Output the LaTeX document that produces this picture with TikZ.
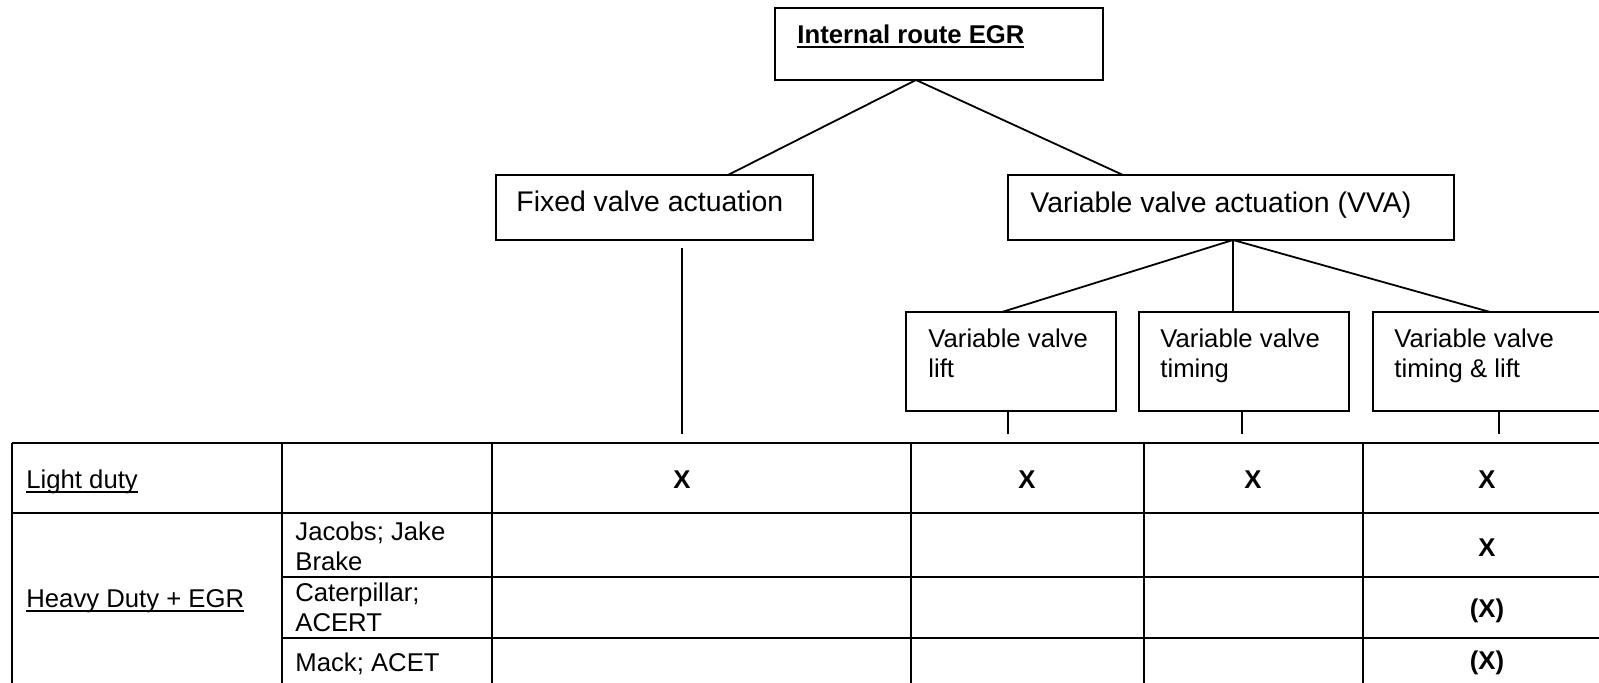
\documentclass[tikz,border=0pt]{standalone}
\usepackage{fontspec}
\setmainfont{Liberation Sans}
\usetikzlibrary{fit}

\newsavebox{\undlbox}
\newcommand{\undl}[1]{\sbox{\undlbox}{#1}\rlap{\rule[-2.3pt]{\wd\undlbox}{0.8pt}}\usebox{\undlbox}}

\begin{document}
\begin{tikzpicture}[
    x=0.5pt, y=-0.5pt,
    box/.style={draw,line width=1pt,inner sep=0pt},
    txt/.style={anchor=north west,inner sep=0pt,align=left,
                font=\fontsize{12.85}{15}\selectfont},
    bigtxt/.style={txt,font=\fontsize{14.2}{17}\selectfont},
    xmk/.style={inner sep=0pt,font=\fontsize{12.85}{15}\selectfont\bfseries},
    link/.style={line width=0.9pt},
    gridln/.style={line width=1pt}
]
    \clip (0,0) rectangle (1599,683);

    % tree of boxes
    \node[box,fit={(775,8) (1103,80)}] (root) {};
    \node[txt,font=\fontsize{12.85}{15}\selectfont\bfseries] (roottxt) at (797,24) {\undl{Internal route EGR}};
    \node[box,fit={(496,175) (813,240)}] (fixed) {};
    \node[bigtxt] (fixedtxt) at (516,191) {Fixed valve actuation};
    \node[box,fit={(1008,175) (1454,240)}] (vva) {};
    \node[bigtxt] (vvatxt) at (1030,192) {Variable valve actuation (VVA)};
    \node[box,fit={(906,312) (1116,411)}] (vvl) {};
    \node[txt] (vvltxt) at (928,328) {Variable valve\\lift};
    \node[box,fit={(1139,312) (1349,411)}] (vvt) {};
    \node[txt] (vvttxt) at (1160,328) {Variable valve\\timing};
    \node[box,fit={(1373,312) (1612,411)}] (vvtl) {};
    \node[txt] (vvtltxt) at (1394,328) {Variable valve\\timing \& lift};

    % connectors
    \coordinate (rootj) at (916,80);
    \coordinate (fixedin) at (728,175);
    \coordinate (vvain) at (1123,175);
    \draw[link] (rootj) -- (fixedin);
    \draw[link] (rootj) -- (vvain);
    \coordinate (vvaj) at (1233,240);
    \coordinate (vvlin) at (1002,312);
    \coordinate (vvtin) at (1233,312);
    \coordinate (vvtlin) at (1490,312);
    \foreach \c in {vvlin,vvtin,vvtlin}
        \draw[link] (vvaj) -- (\c);

    % stubs down to the table
    \coordinate (fixout) at (682,434);
    \coordinate (vvlout) at (1008,434);
    \coordinate (vvtout) at (1242,434);
    \coordinate (vvtlout) at (1499,434);
    \draw[link] (fixed.south -| fixout) ++(0,7) -- (fixout);
    \foreach \n in {vvl,vvt,vvtl}
        \draw[link] (\n.south -| \n out) -- (\n out);

    % table
    \foreach \x in {12,282,492,911,1144,1363,1611}
        \draw[gridln] (\x,443) -- (\x,700);
    \draw[gridln] (12,443) -- (1611,443);
    \draw[gridln] (12,513) -- (1611,513);
    \draw[gridln] (282,577) -- (1611,577);
    \draw[gridln] (282,638) -- (1611,638);

    \node[txt] (light) at (26,469) {\undl{Light duty}};
    \node[txt] (heavy) at (26,589) {\undl{Heavy Duty + EGR}};
    \node[txt] (jacobs) at (295,521) {Jacobs; Jake\\Brake};
    \node[txt] (cat) at (295,582) {Caterpillar;\\ACERT};
    \node[txt] (mack) at (295,652) {Mack; ACET};

    \foreach \x/\n in {682/a,1027/b,1253/c,1487/d}
        \node[xmk] (light-\n) at (\x,480) {X};
    \node[xmk] (jacobs-x) at (1487,548) {X};
    \node[xmk] (cat-x) at (1487,611) {(X)};
    \node[xmk] (mack-x) at (1487,663) {(X)};
\end{tikzpicture}
\end{document}
